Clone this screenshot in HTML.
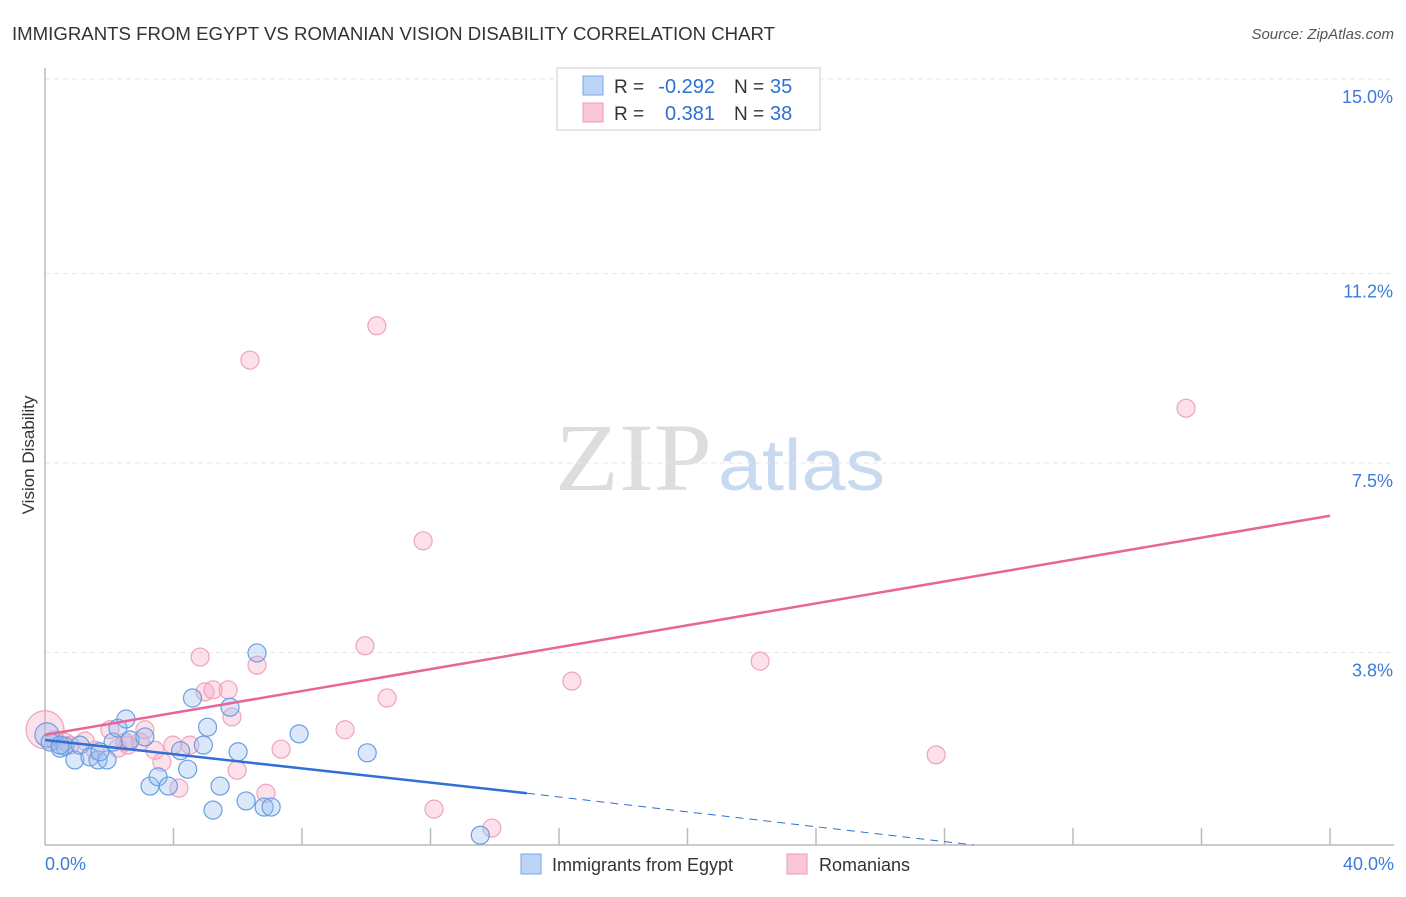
<!DOCTYPE html>
<html><head><meta charset="utf-8"><style>
body{margin:0;background:#fff;font-family:"Liberation Sans",sans-serif;}
</style></head><body>
<svg width="1406" height="892" xmlns="http://www.w3.org/2000/svg" font-family="Liberation Sans, sans-serif">
<text x="12" y="40" font-size="18" fill="#333" textLength="763" lengthAdjust="spacingAndGlyphs">IMMIGRANTS FROM EGYPT VS ROMANIAN VISION DISABILITY CORRELATION CHART</text>
<text x="1394" y="39" font-size="15" fill="#555" text-anchor="end" font-style="italic">Source: ZipAtlas.com</text>
<text x="555" y="490" font-size="96" fill="#ddd" font-family="Liberation Serif, serif" textLength="157" lengthAdjust="spacingAndGlyphs">ZIP</text>
<text x="718" y="490" font-size="72" fill="#c9daf0" textLength="167" lengthAdjust="spacingAndGlyphs">atlas</text>
<g id="grid"></g>
<line x1="45" y1="68" x2="45" y2="845" stroke="#bbb" stroke-width="1.5"/>
<line x1="45" y1="845" x2="1394" y2="845" stroke="#bbb" stroke-width="1.5"/>
<text transform="translate(34,455) rotate(-90)" font-size="17" fill="#333" text-anchor="middle">Vision Disability</text>
<text x="45" y="870" font-size="18" fill="#3d7bd9">0.0%</text>
<text x="1394" y="870" font-size="18" fill="#3d7bd9" text-anchor="end">40.0%</text>
<g id="pts"></g>
<g id="lines"></g>
<g>
<rect x="557" y="68" width="263" height="62" fill="#fff" stroke="#ccc"/>
<rect x="583" y="76" width="20" height="19" fill="#bcd4f5" stroke="#7aa6e6"/>
<rect x="583" y="103" width="20" height="19" fill="#f9c7d6" stroke="#ee9ab3"/>
<text x="614" y="93" font-size="19" fill="#333">R =</text>
<text x="715" y="93" font-size="20" fill="#2f6fd6" text-anchor="end">-0.292</text>
<text x="734" y="93" font-size="19" fill="#333">N =</text>
<text x="770" y="93" font-size="20" fill="#2f6fd6">35</text>
<text x="614" y="120" font-size="19" fill="#333">R =</text>
<text x="715" y="120" font-size="20" fill="#2f6fd6" text-anchor="end">0.381</text>
<text x="734" y="120" font-size="19" fill="#333">N =</text>
<text x="770" y="120" font-size="20" fill="#2f6fd6">38</text>
</g>
<g>
<rect x="521" y="854" width="20" height="20" fill="#bcd4f5" stroke="#7aa6e6"/>
<text x="552" y="871" font-size="18" fill="#333">Immigrants from Egypt</text>
<rect x="787" y="854" width="20" height="20" fill="#f9c7d6" stroke="#ee9ab3"/>
<text x="819" y="871" font-size="18" fill="#333">Romanians</text>
</g>
</svg>
<script>
const yTicks=[15.0,11.2,7.5,3.8];
const yTickLabels=["15.0%","11.2%","7.5%","3.8%"];
const xTicks=[4,8,12,16,20,24,28,32,36,40];
const egyptX=[0.06,0.16,0.47,0.62,0.93,1.09,1.4,1.65,1.93,2.12,2.27,2.52,2.65,3.11,3.27,3.52,3.84,4.22,4.44,4.59,4.93,5.06,5.23,5.45,5.76,6.01,6.26,6.6,6.82,7.04,7.91,10.03,13.55,0.47,1.71];
const egyptY=[2.19,2.05,1.93,1.97,1.70,1.99,1.76,1.70,1.70,2.05,2.32,2.50,2.09,2.15,1.19,1.37,1.19,1.88,1.52,2.91,1.99,2.34,0.72,1.19,2.73,1.86,0.90,3.79,0.78,0.78,2.21,1.84,0.23,1.99,1.86];
const romX=[0,0.31,0.62,1.25,1.56,2.02,2.27,2.58,2.96,3.11,3.42,3.64,3.98,4.17,4.51,4.83,4.98,5.23,5.7,5.82,5.98,6.38,6.6,6.88,7.35,9.34,9.96,10.33,10.65,11.77,12.11,13.91,16.4,22.26,27.74,35.52,0.78,2.49];
const romY=[2.29,2.09,2.05,2.07,1.89,2.29,1.93,1.99,2.05,2.29,1.89,1.66,1.99,1.15,1.99,3.71,3.03,3.07,3.07,2.54,1.50,9.51,3.55,1.05,1.91,2.29,3.93,10.18,2.91,5.98,0.74,0.37,3.24,3.63,1.80,8.57,1.99,2.05];
const NS="http://www.w3.org/2000/svg";
const xs=v=>45+v/40*1285, ys=v=>847-v*51.2;
const grid=document.getElementById('grid');
yTicks.forEach((t,i)=>{
 const l=document.createElementNS(NS,'line');
 
 
 l.setAttribute('x1',45);l.setAttribute('x2',1394);l.setAttribute('y1',ys(t));l.setAttribute('y2',ys(t));
 l.setAttribute('stroke','#e6e6e6');l.setAttribute('stroke-dasharray','5,4');grid.appendChild(l);
 const tx=document.createElementNS(NS,'text');
 
 
 tx.setAttribute('x',1393);tx.setAttribute('y',ys(t)+24);tx.setAttribute('text-anchor','end');
 tx.setAttribute('font-size','18');tx.setAttribute('fill','#3d7bd9');tx.textContent=yTickLabels[i];grid.appendChild(tx);
});
xTicks.forEach(t=>{
 const l=document.createElementNS(NS,'line');
 
 
 l.setAttribute('x1',xs(t));l.setAttribute('x2',xs(t));l.setAttribute('y1',828);l.setAttribute('y2',845);
 l.setAttribute('stroke','#bbb');l.setAttribute('stroke-width','1.5');grid.appendChild(l);
});
const pts=document.getElementById('pts');
function dot(x,y,r,fill,stroke,name){
 const c=document.createElementNS(NS,'circle');
 
 
 c.setAttribute('cx',xs(x));c.setAttribute('cy',ys(y));c.setAttribute('r',r);
 c.setAttribute('fill',fill);c.setAttribute('stroke',stroke);c.setAttribute('stroke-width','1.2');pts.appendChild(c);
}
romX.forEach((x,i)=>dot(x,romY[i],i==0?19:9,'rgba(247,170,195,0.35)','#f0a3bb','romanians-point'));
egyptX.forEach((x,i)=>dot(x,egyptY[i],i==0?12:9,'rgba(150,190,240,0.35)','#6a9de3','egypt-point'));
const lines=document.getElementById('lines');
function ln(x1,y1,x2,y2,c,w,dash,name){
 const l=document.createElementNS(NS,'line');
 
 
 l.setAttribute('x1',xs(x1));l.setAttribute('y1',ys(y1));l.setAttribute('x2',xs(x2));l.setAttribute('y2',ys(y2));
 l.setAttribute('stroke',c);l.setAttribute('stroke-width',w);if(dash)l.setAttribute('stroke-dasharray',dash);lines.appendChild(l);
}
ln(0,2.19,40,6.47,'#e8659a',2.5,null,'romanians-trend');
ln(0,2.09,15,1.05,'#2f6fd6',2.5,null,'egypt-trend');
ln(15,1.05,28.9,0.04,'#2f6fd6',1,'8,6','egypt-trend-extension');
</script>
</body></html>
